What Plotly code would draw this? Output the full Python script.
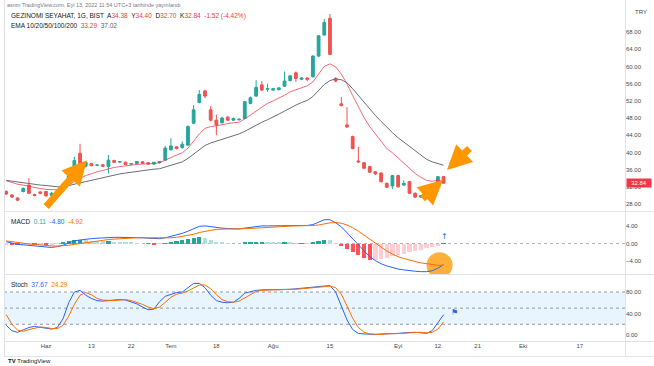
import plotly.graph_objects as go

# ---------------- DATA ----------------
dates = ["2022-05-23","2022-05-24","2022-05-25","2022-05-26","2022-05-27","2022-05-30","2022-05-31",
         "2022-06-01","2022-06-02","2022-06-03","2022-06-06","2022-06-07","2022-06-08","2022-06-09","2022-06-10",
         "2022-06-13","2022-06-14","2022-06-15","2022-06-16","2022-06-17","2022-06-20","2022-06-21","2022-06-22",
         "2022-06-23","2022-06-24","2022-06-27","2022-06-28","2022-06-29","2022-06-30",
         "2022-07-01","2022-07-04","2022-07-05","2022-07-06","2022-07-07","2022-07-08","2022-07-13","2022-07-14",
         "2022-07-18","2022-07-19","2022-07-20","2022-07-21","2022-07-22","2022-07-25","2022-07-26","2022-07-27",
         "2022-07-28","2022-07-29",
         "2022-08-01","2022-08-02","2022-08-03","2022-08-04","2022-08-05","2022-08-08","2022-08-09","2022-08-10",
         "2022-08-11","2022-08-12","2022-08-15","2022-08-16","2022-08-17","2022-08-18","2022-08-19","2022-08-22",
         "2022-08-23","2022-08-24","2022-08-25","2022-08-26","2022-08-29","2022-08-31",
         "2022-09-01","2022-09-02","2022-09-05","2022-09-06","2022-09-07","2022-09-08","2022-09-09","2022-09-12",
         "2022-09-13"]
future_dates = ["2022-09-14","2022-09-15","2022-09-16","2022-09-19","2022-09-20","2022-09-21","2022-09-22",
                "2022-09-23","2022-09-26","2022-09-27","2022-09-28","2022-09-29","2022-09-30","2022-10-03",
                "2022-10-04","2022-10-05","2022-10-06","2022-10-07","2022-10-10","2022-10-11","2022-10-12",
                "2022-10-13","2022-10-14","2022-10-17"]

opens = [30.9,30.1,29.4,30.9,32.4,30.2,30.8,30.9,30.0,29.8,31.1,32.8,36.6,39.8,36.8,37.4,37.0,37.1,36.7,38.1,
         37.75,37.7,37.3,37.4,37.8,37.6,37.3,37.6,38.2,40.6,41.3,41.1,41.7,46.8,51.6,54.3,49.9,47.5,46.9,48.2,
         47.5,47.6,47.9,51.4,53.1,55.7,54.7,54.5,54.6,55.4,56.7,58.5,57.0,57.3,57.6,62.4,67.3,71.2,57.2,51.3,
         46.4,43.7,38.0,37.6,36.7,35.5,35.2,32.8,32.2,34.6,32.4,33.2,30.5,29.6,29.9,30.5,32.9,34.38]
highs = [31.2,30.3,29.6,31.9,34.0,30.4,31.0,31.1,30.8,31.3,33.0,36.3,39.0,42.0,37.9,37.6,37.2,37.3,39.4,38.3,
         38.0,37.9,37.5,38.0,38.0,37.8,37.8,38.0,41.5,43.3,41.5,42.6,46.3,51.0,54.5,54.6,50.8,48.8,48.3,48.5,
         48.1,47.9,52.0,53.0,56.8,56.6,56.0,55.0,55.2,58.8,58.0,58.8,57.5,57.5,62.6,67.3,71.0,72.2,57.5,52.9,
         50.5,43.9,41.3,37.8,36.9,35.7,35.4,33.0,34.8,34.8,33.5,33.4,30.7,30.1,30.8,32.6,34.4,34.40]
lows = [30.1,29.4,28.7,30.7,30.3,29.8,30.3,29.7,29.8,29.6,30.9,32.6,36.4,36.3,36.5,36.8,36.8,36.6,35.1,37.5,
        37.5,37.0,37.1,37.3,37.3,37.1,37.1,37.4,38.0,40.4,40.7,40.9,41.5,46.6,51.4,52.6,47.2,44.0,46.7,47.3,
        47.3,47.4,47.7,51.2,52.9,54.3,54.1,54.3,54.4,55.2,56.5,56.4,56.8,56.5,57.4,62.2,67.1,62.6,56.3,50.7,
        45.7,40.7,37.6,36.1,35.2,34.8,33.0,31.7,31.5,31.8,32.2,30.3,29.4,29.4,29.7,30.3,32.7,32.70]
closes = [30.3,29.6,28.9,31.6,30.5,30.0,30.5,29.9,30.5,31.1,32.6,36.1,38.1,36.6,37.7,36.9,37.05,36.8,38.2,37.7,
          37.85,37.2,37.35,37.9,37.5,37.3,37.7,37.9,41.0,41.5,40.9,41.9,46.0,49.9,53.5,53.1,47.5,46.4,48.0,47.5,
          47.9,47.7,51.8,52.7,55.1,54.5,54.8,54.8,55.0,56.6,57.8,57.2,57.3,57.0,62.4,67.1,70.2,62.8,56.6,50.9,
          45.9,40.9,37.8,36.3,35.4,35.0,33.2,31.9,34.6,32.0,32.8,30.5,29.6,29.9,30.6,32.4,34.36,32.84]

ema_fast = [33.4,33.0,32.6,32.4,32.1,31.8,31.6,31.4,31.3,31.3,31.6,32.4,33.4,34.0,34.6,35.1,35.5,35.8,36.2,36.5,
            36.7,36.9,37.0,37.2,37.3,37.3,37.4,37.6,38.2,38.9,39.4,39.9,41.0,42.6,44.3,45.6,46.0,46.2,46.5,46.7,
            46.9,47.0,47.8,48.7,49.8,50.6,51.4,52.0,52.6,53.3,54.1,54.6,55.1,55.5,56.4,58.1,60.0,60.6,59.9,58.2,
            55.9,53.2,50.5,48.1,46.0,44.3,42.6,40.9,39.9,38.7,37.6,36.3,35.1,34.2,33.5,33.3,33.5,33.29]
ema_slow = [33.5,33.3,33.1,32.9,32.8,32.6,32.4,32.3,32.1,32.0,32.0,32.3,32.7,33.0,33.3,33.6,33.9,34.2,34.5,34.7,
            35.0,35.2,35.4,35.6,35.8,35.9,36.1,36.2,36.6,37.0,37.4,37.8,38.6,39.6,40.7,41.6,42.2,42.6,43.1,43.5,
            43.9,44.3,44.9,45.6,46.4,47.0,47.6,48.2,48.9,49.6,50.4,51.0,51.6,52.1,53.0,54.3,55.8,56.7,57.1,56.9,
            56.2,54.8,53.2,51.6,50.1,48.6,47.2,45.8,44.6,43.4,42.4,41.3,40.2,39.2,38.4,37.8,37.4,37.02]

macd_line = [0.4,0.1,-0.2,-0.3,-0.4,-0.6,-0.7,-0.85,-0.9,-0.7,-0.4,0.1,0.6,0.8,1.0,1.1,1.2,1.3,1.4,1.4,
             1.4,1.4,1.4,1.35,1.3,1.2,1.1,1.1,1.3,1.6,1.9,2.3,2.8,3.4,3.9,4.0,3.8,3.6,3.5,3.4,
             3.3,3.3,3.5,3.7,3.9,4.0,4.0,4.0,4.0,4.1,4.1,4.1,4.1,4.1,4.3,4.8,5.4,5.4,4.7,3.8,
             2.4,1.0,-0.4,-1.8,-3.0,-3.9,-4.6,-5.1,-5.5,-5.8,-6.0,-6.2,-6.3,-6.4,-6.4,-6.2,-5.6,-4.80]
signal_line = [0.6,0.4,0.2,0.05,-0.1,-0.2,-0.35,-0.45,-0.55,-0.6,-0.55,-0.4,-0.2,0.0,0.25,0.45,0.6,0.8,0.9,1.0,
               1.1,1.2,1.25,1.3,1.3,1.3,1.25,1.2,1.2,1.3,1.4,1.6,1.8,2.1,2.5,2.8,3.0,3.2,3.3,3.3,
               3.3,3.3,3.35,3.4,3.5,3.6,3.7,3.8,3.85,3.9,3.95,4.0,4.0,4.05,4.1,4.2,4.5,4.7,4.75,4.6,
               4.2,3.6,2.8,1.9,1.0,0.0,-0.9,-1.7,-2.4,-3.0,-3.4,-3.8,-4.1,-4.4,-4.6,-4.8,-4.95,-4.92]
macd_hist = [-0.25,-0.35,-0.4,-0.38,-0.35,-0.4,-0.38,-0.4,-0.35,-0.1,0.15,0.5,0.8,0.8,0.75,0.65,0.6,0.5,0.5,0.4,
             0.3,0.2,0.15,0.05,0.0,-0.1,-0.15,-0.1,0.1,0.3,0.5,0.7,1.0,1.3,1.4,1.2,0.8,0.4,0.2,0.1,
             0.0,0.0,0.15,0.3,0.4,0.4,0.3,0.2,0.15,0.2,0.15,0.1,0.1,0.05,0.2,0.6,0.9,0.7,0.1,-0.6,
             -1.2,-1.9,-2.6,-3.3,-3.8,-3.75,-3.5,-3.2,-2.9,-2.6,-2.3,-2.0,-1.7,-1.4,-1.1,-0.8,-0.5,0.11]

stoch_k = [18,8,5,10,14,16,14,12,11,14,30,60,80,83,74,68,64,63,64,66,
           66,65,62,58,52,47,48,62,72,76,79,80,88,96,96,88,74,64,61,60,
           61,68,78,81,83,84,84,84,85,85,85,86,87,88,89,90,92,92,80,55,
           28,10,3,2,1,1,2,2,3,3,4,5,5,4,3,8,22,37.67]
stoch_d = [38,20,9,7,10,13,15,14,12,12,18,35,57,74,79,75,68,65,64,64,
           65,66,64,61,57,52,49,52,61,70,76,78,82,88,93,93,86,75,66,62,
           61,63,69,76,81,83,84,84,84,85,85,85,86,87,88,89,90,91,88,76,
           54,31,14,5,2,1,1,2,2,3,3,4,5,5,4,5,11,24.29]

tick_dates = ["2022-06-01","2022-06-13","2022-06-22","2022-07-01","2022-07-18","2022-08-01",
              "2022-08-15","2022-09-01","2022-09-12","2022-09-21","2022-10-03","2022-10-17"]
tick_labels = ["Haz","13","22","Tem","18","Ağu","15","Eyl","12","21","Eki","17"]
price_ticks = [28, 32, 36, 40, 44, 48, 52, 56, 60, 64, 68]
macd_ticks = [-4, 0, 4]
stoch_ticks = [0, 40, 80]
stoch_bands = [20, 50, 80]

# ---------------- LAYOUT HELPERS ----------------
W, H = 654, 366
def fy(p):  # pixel row -> paper y
    return 1 - p / H
def fx(p):  # pixel col -> paper x
    return p / W

all_dates = dates + future_dates
xi = list(range(len(dates)))
tick_pos = [all_dates.index(d) for d in tick_dates]

FONT = "Liberation Sans"
UP, DOWN = "#26A69A", "#EF5350"
GRID = "#E0E3EB"

fig = go.Figure()

# Price pane
fig.add_trace(go.Candlestick(x=xi, open=opens, high=highs, low=lows, close=closes,
                             increasing=dict(line=dict(color=UP, width=1), fillcolor=UP),
                             decreasing=dict(line=dict(color=DOWN, width=1), fillcolor=DOWN),
                             whiskerwidth=0, xaxis="x", yaxis="y", hoverinfo="skip"))
fig.add_trace(go.Scatter(x=xi, y=ema_fast, mode="lines", line=dict(color="rgba(242,54,69,0.75)", width=1),
                         xaxis="x", yaxis="y", hoverinfo="skip"))
fig.add_trace(go.Scatter(x=xi, y=ema_slow, mode="lines", line=dict(color="#6B6E78", width=1),
                         xaxis="x", yaxis="y", hoverinfo="skip"))

# MACD pane
hist_colors = []
for i, h in enumerate(macd_hist):
    prev = macd_hist[i - 1] if i > 0 else h
    if h >= 0:
        hist_colors.append("#26A69A" if h >= prev else "#B2DFDB")
    else:
        hist_colors.append("#FFCDD2" if h >= prev else "#FF5252")
fig.add_trace(go.Bar(x=xi, y=macd_hist, marker=dict(color=hist_colors, line=dict(width=0)), width=0.75,
                     xaxis="x2", yaxis="y2", hoverinfo="skip"))
# highlight circle (under the lines)
fig.add_trace(go.Scatter(x=[xi[-1] - 0.7], y=[signal_line[-1]], mode="markers",
                         marker=dict(size=26, color="rgba(255,167,38,0.9)", line=dict(width=0)),
                         xaxis="x2", yaxis="y2", hoverinfo="skip"))
fig.add_trace(go.Scatter(x=xi, y=macd_line, mode="lines", line=dict(color="#2962FF", width=1),
                         xaxis="x2", yaxis="y2", hoverinfo="skip"))
fig.add_trace(go.Scatter(x=xi, y=signal_line, mode="lines", line=dict(color="#FF6D00", width=1),
                         xaxis="x2", yaxis="y2", hoverinfo="skip"))

# Stoch pane
fig.add_trace(go.Scatter(x=xi, y=stoch_k, mode="lines", line=dict(color="#2962FF", width=1),
                         xaxis="x3", yaxis="y3", hoverinfo="skip"))
fig.add_trace(go.Scatter(x=xi, y=stoch_d, mode="lines", line=dict(color="#FF6D00", width=1),
                         xaxis="x3", yaxis="y3", hoverinfo="skip"))

xr = [(4 - 6.2) / 5.68, (625 - 6.2) / 5.68]
xdom = [fx(4), fx(625)]
common_x = dict(domain=xdom, range=xr, showgrid=False, zeroline=False, showline=False,
                fixedrange=True, rangeslider=dict(visible=False))
tickfont = dict(family=FONT, size=6, color="#4A4A4A")
common_y = dict(side="right", showgrid=False, zeroline=False, showline=False, ticks="",
                tickformat=".2f", tickfont=tickfont, automargin=False, fixedrange=True)

fig.update_layout(
    width=W, height=H, margin=dict(l=0, r=0, t=0, b=0, autoexpand=False),
    paper_bgcolor="white", plot_bgcolor="white", showlegend=False,
    xaxis=dict(anchor="y", showticklabels=False, **common_x),
    xaxis2=dict(anchor="y2", showticklabels=False, **common_x),
    xaxis3=dict(anchor="y3", showticklabels=True, tickvals=tick_pos, ticktext=tick_labels,
                tickfont=tickfont, ticks="", **common_x),
    yaxis=dict(anchor="x", domain=[fy(210), fy(3)],
               range=[28 + (204 - 210) / 4.3, 28 + (204 - 3) / 4.3], tickvals=price_ticks, **common_y),
    yaxis2=dict(anchor="x2", domain=[fy(274), fy(212)],
                range=[-(274 - 243.5) / 4.4, (243.5 - 212) / 4.4], tickvals=macd_ticks, **common_y),
    yaxis3=dict(anchor="x3", domain=[fy(341), fy(275)],
                range=[-(341 - 335) / 0.5375, (335 - 275) / 0.5375], tickvals=stoch_ticks, **common_y),
    bargap=0,
)

shapes = []
# stoch band fill and dashed levels
shapes.append(dict(type="rect", xref="paper", yref="y3", x0=xdom[0], x1=xdom[1],
                   y0=stoch_bands[0], y1=stoch_bands[-1], fillcolor="rgba(33,150,243,0.1)",
                   line=dict(width=0), layer="below"))
for b in stoch_bands:
    shapes.append(dict(type="line", xref="paper", yref="y3", x0=xdom[0], x1=xdom[1], y0=b, y1=b,
                       line=dict(color="#9598A1", width=1, dash="3px,3px"), layer="below"))
shapes.append(dict(type="line", xref="paper", yref="y2", x0=xdom[0], x1=xdom[1], y0=0, y1=0,
                   line=dict(color="#B2B5BE", width=1, dash="3px,3px"), layer="below"))
# separators
for yp in [211.5, 274.5, 341.5, 356.5]:
    shapes.append(dict(type="line", xref="paper", yref="paper", x0=fx(4), x1=1, y0=fy(yp), y1=fy(yp),
                       line=dict(color=GRID, width=1)))
shapes.append(dict(type="line", xref="paper", yref="paper", x0=fx(625.5), x1=fx(625.5), y0=fy(0), y1=fy(356.5),
                   line=dict(color=GRID, width=1)))
shapes.append(dict(type="line", xref="paper", yref="paper", x0=fx(4.5), x1=fx(4.5), y0=fy(0), y1=fy(356.5),
                   line=dict(color=GRID, width=1)))
fig.update_layout(shapes=shapes)

RED = "#F23645"
o, h, l, c = opens[-1], highs[-1], lows[-1], closes[-1]
chg = c - closes[-2]
pct = chg / closes[-2] * 100
ann = []
ann.append(dict(xref="paper", yref="paper", x=fx(5), y=fy(5), xanchor="left", yanchor="middle",
                text="asnm TradingView.com, Eyl 13, 2022 11:54 UTC+3 tarihinde yayınlandı",
                showarrow=False, font=dict(family=FONT, size=5.5, color="#787B86")))
ann.append(dict(xref="paper", yref="paper", x=fx(9), y=fy(16), xanchor="left", yanchor="middle",
                text=(f"GEZINOMI SEYAHAT, 1G, BIST  A<span style='color:{RED}'>{o:.2f}</span>  "
                      f"Y<span style='color:{RED}'>{h:.2f}</span>  D<span style='color:{RED}'>{l:.2f}</span>  "
                      f"K<span style='color:{RED}'>{c:.2f}  {chg:.2f} ({pct:.2f}%)</span>"),
                showarrow=False, font=dict(family=FONT, size=6.5, color="#131722")))
ann.append(dict(xref="paper", yref="paper", x=fx(9), y=fy(26), xanchor="left", yanchor="middle",
                text=(f"EMA 10/20/50/100/200  <span style='color:{RED}'>{ema_fast[-1]:.2f}</span>  "
                      f"<span style='color:#5D606B'>{ema_slow[-1]:.2f}</span>"),
                showarrow=False, font=dict(family=FONT, size=6.5, color="#131722")))
ann.append(dict(xref="paper", yref="paper", x=fx(9), y=fy(221), xanchor="left", yanchor="middle",
                text=(f"MACD  <span style='color:#26A69A'>{macd_hist[-1]:.2f}</span>  "
                      f"<span style='color:#2962FF'>{macd_line[-1]:.2f}</span>  "
                      f"<span style='color:#FF6D00'>{signal_line[-1]:.2f}</span>"),
                showarrow=False, font=dict(family=FONT, size=6.5, color="#131722")))
ann.append(dict(xref="paper", yref="paper", x=fx(9), y=fy(284), xanchor="left", yanchor="middle",
                text=(f"Stoch  <span style='color:#2962FF'>{stoch_k[-1]:.2f}</span>  "
                      f"<span style='color:#FF6D00'>{stoch_d[-1]:.2f}</span>"),
                showarrow=False, font=dict(family=FONT, size=6.5, color="#131722")))
ann.append(dict(xref="paper", yref="paper", x=fx(633), y=fy(12), xanchor="left", yanchor="middle",
                text="TRY", showarrow=False, font=dict(family=FONT, size=6, color="#4A4A4A")))
ann.append(dict(xref="paper", yref="y", x=fx(626), y=c, xanchor="left", yanchor="middle",
                text=f"{c:.2f}", showarrow=False, bgcolor=RED, borderpad=1, width=22,
                font=dict(family=FONT, size=6, color="white")))
ann.append(dict(xref="paper", yref="paper", x=fx(6), y=fy(361), xanchor="left", yanchor="middle",
                text="<b>TV</b> TradingView", showarrow=False, font=dict(family=FONT, size=6, color="#131722")))
# markers
ann.append(dict(xref="x2", yref="y2", x=xi[-1] + 0.2, y=1.5, text="↑", showarrow=False,
                font=dict(family="DejaVu Sans", size=8, color="#2962FF")))
ann.append(dict(xref="x3", yref="y3", x=xi[-1] + 2, y=41, text="⚑", showarrow=False,
                font=dict(family="DejaVu Sans", size=8, color="#2962FF")))
# orange arrows (tip in data coords, tail offset in pixels)
ORANGE = "#FF9800"
def arrow(xv, yv, ax, ay):
    return dict(xref="x", yref="y", x=xv, y=yv, ax=ax, ay=ay, text="", showarrow=True,
                arrowhead=2, arrowsize=0.7, arrowwidth=7, arrowcolor=ORANGE)
ann.append(arrow(14.2, 38.2, -42, 48))
ann.append(arrow(77.6, 35.9, 24, -23))
ann.append(arrow(76.9, 33.6, -22, 20))
fig.update_layout(annotations=ann)

fig.write_html("out.html", config={"displayModeBar": False},
               post_script="document.body.style.margin='0px';document.body.style.overflow='hidden';")
